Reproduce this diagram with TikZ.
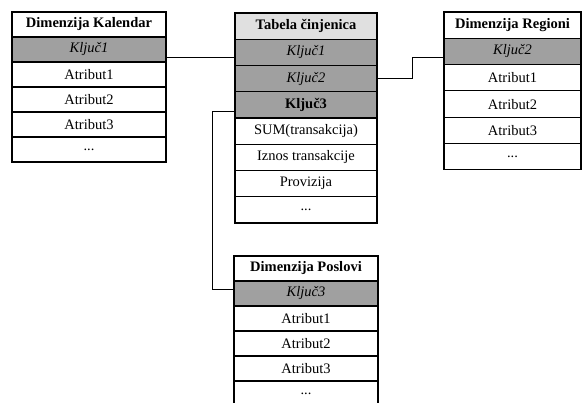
\documentclass[tikz,border=0pt]{standalone}
\usepackage{fontspec}
\setmainfont{Liberation Serif}
\usetikzlibrary{positioning}
\definecolor{keygray}{RGB}{160,160,160}
\definecolor{headgray}{RGB}{224,224,224}

\begin{document}
\begin{tikzpicture}[x=1pt,y=-1pt,
  cell/.style={draw=black,line width=1.1pt,outer sep=0pt,inner sep=0pt,
    font=\fontsize{14.5}{16}\selectfont},
  keycell/.style={cell,fill=keygray,font=\fontsize{14.5}{16}\selectfont\itshape},
  headcell/.style={cell,font=\fontsize{14.5}{16}\selectfont\bfseries},
  link/.style={draw=black,line width=0.9pt}]
\useasboundingbox[fill=white] (0,0) rectangle (582,403);
% Dimension table: calendar
\begin{scope}[every node/.append style={minimum width=154pt,minimum height=25pt}]
\node[headcell,anchor=north] (kalH) at (89,12) {Dimenzija Kalendar};
\node[keycell,below=0pt of kalH] (kalK) {Ključ1};
\node[cell,below=0pt of kalK] (kalA) {Atribut1};
\node[cell,below=0pt of kalA] (kalB) {Atribut2};
\node[cell,below=0pt of kalB] (kalC) {Atribut3};
\node[cell,below=0pt of kalC] (kalD) {...};
\end{scope}
% Fact table
\begin{scope}[every node/.append style={minimum width=142pt,minimum height=26.25pt}]
\node[headcell,fill=headgray,anchor=north] (factH) at (306,13) {Tabela činjenica};
\node[keycell,below=0pt of factH] (factK1) {Ključ1};
\node[keycell,below=0pt of factK1] (factK2) {Ključ2};
\node[keycell,below=0pt of factK2,font=\fontsize{14.5}{16}\selectfont\bfseries] (factK3) {Ključ3};
\node[cell,below=0pt of factK3] (factS) {SUM(transakcija)};
\node[cell,below=0pt of factS] (factI) {Iznos transakcije};
\node[cell,below=0pt of factI] (factP) {Provizija};
\node[cell,below=0pt of factP] (factD) {...};
\end{scope}
% Dimension table: regions
\begin{scope}[every node/.append style={minimum width=137pt,minimum height=26.3pt}]
\node[headcell,anchor=north] (regH) at (512.5,12) {Dimenzija Regioni};
\node[keycell,below=0pt of regH] (regK) {Ključ2};
\node[cell,below=0pt of regK] (regA) {Atribut1};
\node[cell,below=0pt of regA] (regB) {Atribut2};
\node[cell,below=0pt of regB] (regC) {Atribut3};
\node[cell,below=0pt of regC] (regD) {...};
\end{scope}
% Dimension table: jobs
\begin{scope}[every node/.append style={minimum width=144pt,minimum height=25pt}]
\node[headcell,anchor=north] (posH) at (306,256) {Dimenzija Poslovi};
\node[keycell,below=0pt of posH] (posK) {Ključ3};
\node[cell,below=0pt of posK] (posA) {Atribut1};
\node[cell,below=0pt of posA] (posB) {Atribut2};
\node[cell,below=0pt of posB] (posC) {Atribut3};
\node[cell,below=0pt of posC] (posD) {...};
\end{scope}
% Key links
\coordinate (bendR) at (412,0);
\coordinate (bendP) at (212,0);
\draw[link] ([yshift=-8pt]kalK.east) -- ([yshift=-8pt]kalK.east -| factK1.west);
\draw[link] (factK2.east) -- (factK2.east -| bendR) -- ([yshift=-6pt]regK.west -| bendR)
  -- ([yshift=-6pt]regK.west);
\draw[link] ([yshift=-7pt]factK3.west) -- ([yshift=-7pt]factK3.west -| bendP)
  -- ([yshift=4pt]posK.west -| bendP) -- ([yshift=4pt]posK.west);
\end{tikzpicture}
\end{document}
